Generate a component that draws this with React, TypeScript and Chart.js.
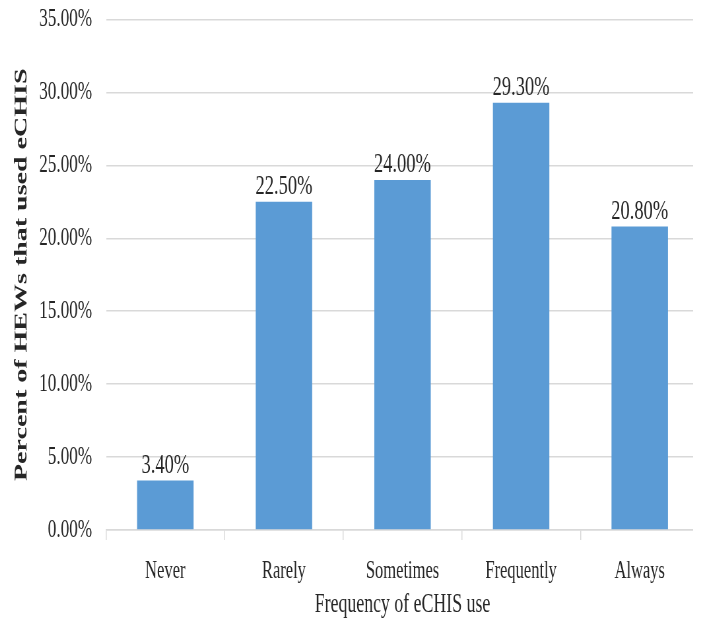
import React, { useEffect, useRef } from "react";
import { Chart, registerables } from "chart.js";

Chart.register(...registerables);

const categories = ["Never", "Rarely", "Sometimes", "Frequently", "Always"];
const values = [3.4, 22.5, 24.0, 29.3, 20.8];
const yTickMin = 0;
const yTickMax = 35;
const yTickStep = 5;

const FONT = '"Liberation Serif", "Times New Roman", serif';
const SX = 0.66;
const CW = 1050;
const CH = 616;

const dataLabels = {
  id: "dataLabels",
  afterDatasetsDraw(chart: any) {
    const ctx = chart.ctx;
    const meta = chart.getDatasetMeta(0);
    ctx.save();
    ctx.font = `28px ${FONT}`;
    ctx.fillStyle = "#262626";
    ctx.textAlign = "center";
    ctx.textBaseline = "bottom";
    meta.data.forEach((bar: any, i: number) => {
      const v = chart.data.datasets[0].data[i] as number;
      ctx.fillText(v.toFixed(2) + "%", bar.x, bar.y - 1);
    });
    ctx.restore();
  },
};

export default function App() {
  const ref = useRef<HTMLCanvasElement | null>(null);
  useEffect(() => {
    if (!ref.current) return;
    const chart = new Chart(ref.current, {
      type: "bar",
      data: {
        labels: categories,
        datasets: [
          {
            data: values,
            backgroundColor: "#5B9BD5",
            borderWidth: 0,
            barPercentage: 0.476,
            categoryPercentage: 1,
          },
        ],
      },
      options: {
        animation: false,
        responsive: false,
        maintainAspectRatio: false,
        layout: { padding: { left: 2, right: 3, top: 0, bottom: 3 } },
        plugins: {
          legend: { display: false },
          tooltip: { enabled: false },
        },
        scales: {
          x: {
            offset: true,
            afterFit: (scale: any) => {
              scale.height = 91;
            },
            grid: {
              offset: true,
              drawOnChartArea: false,
              drawTicks: true,
              tickLength: 10,
              color: "#d9d9d9",
              lineWidth: 1.5,
            },
            border: { display: true, color: "#d9d9d9", width: 1.5 },
            ticks: {
              color: "#262626",
              font: { family: FONT, size: 25 },
              padding: 16,
            },
            title: {
              display: true,
              text: "Frequency of eCHIS use",
              color: "#262626",
              font: { family: FONT, size: 27 },
              padding: { top: 3, bottom: 0 },
            },
          },
          y: {
            min: yTickMin,
            max: yTickMax,
            afterFit: (scale: any) => {
              scale.width = 146.5;
              scale.paddingTop = 11.5;
              scale.paddingBottom = 0;
            },
            grid: {
              color: "#d9d9d9",
              lineWidth: 1.5,
              drawTicks: false,
            },
            border: { display: false },
            ticks: {
              stepSize: yTickStep,
              color: "#262626",
              font: { family: FONT, size: 26 },
              padding: 21,
              callback: (v: any) => Number(v).toFixed(2) + "%",
            },
            title: {
              display: true,
              text: "Percent of HEWs that used eCHIS",
              color: "#262626",
              font: { family: FONT, size: 28, weight: "bold" },
              padding: { top: 2, bottom: 0 },
            },
          },
        },
      },
      plugins: [dataLabels],
    });
    return () => chart.destroy();
  }, []);

  return (
    <div style={{ width: Math.round(CW * SX), height: CH, overflow: "hidden" }}>
      <div
        style={{
          width: CW,
          height: CH,
          transform: `scaleX(${SX})`,
          transformOrigin: "0 0",
        }}
      >
        <canvas ref={ref} width={CW} height={CH} style={{ display: "block" }} />
      </div>
    </div>
  );
}
